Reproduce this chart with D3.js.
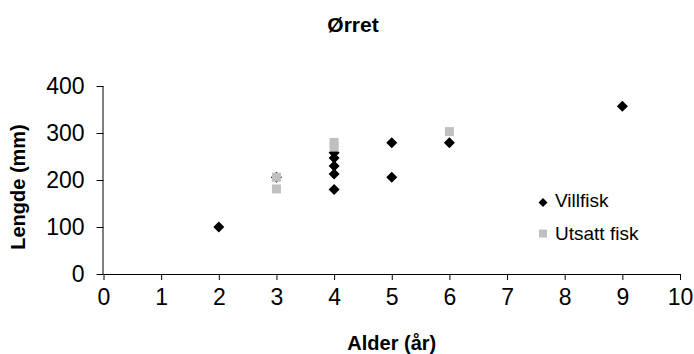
<!DOCTYPE html>
<html>
<head>
<meta charset="utf-8">
<script src="https://cdn.jsdelivr.net/npm/d3@7/dist/d3.min.js"></script>
<style>
  html, body { margin: 0; padding: 0; background: #fff; }
  svg { display: block; font-family: "Liberation Sans", Arial, sans-serif; }
</style>
</head>
<body>
<svg id="chart" width="694" height="354"></svg>
<script>
// Trout length by age: wild fish vs stocked fish
const seriesNames = ["Villfisk", "Utsatt fisk"];
const villfiskAge = [2, 3, 4, 4, 4, 4, 4, 5, 5, 6, 9];
const villfiskLength = [100, 206, 180, 213, 230, 247, 258, 206, 279, 279, 357];
const utsattAge = [3, 3, 4, 4, 6];
const utsattLength = [206, 181, 270, 280, 303];
const xTicks = [0, 1, 2, 3, 4, 5, 6, 7, 8, 9, 10];
const yTicks = [0, 100, 200, 300, 400];

const svg = d3.select("#chart");
const margin = { left: 103.5, right: 14, top: 86, bottom: 80 };
const W = 694, H = 354;

const x = d3.scaleLinear().domain([0, 10]).range([margin.left, W - margin.right]);
const y = d3.scaleLinear().domain([0, 400]).range([H - margin.bottom, margin.top]);

// Title
svg.append("text")
  .attr("x", 353).attr("y", 31.5)
  .attr("text-anchor", "middle")
  .attr("font-weight", "bold").attr("font-size", 21)
  .text("Ørret");

// Axes
const xAxis = svg.append("g")
  .attr("transform", `translate(0,${y(0)})`)
  .call(d3.axisBottom(x).tickValues(xTicks).tickSize(6).tickPadding(9).tickFormat(d3.format("d")));
const yAxis = svg.append("g")
  .attr("transform", `translate(${x(0)},0)`)
  .call(d3.axisLeft(y).tickValues(yTicks).tickSize(7).tickPadding(12).tickFormat(d3.format("d")));

[xAxis, yAxis].forEach(g => {
  g.selectAll(".tick line").attr("stroke", "#000");
  g.selectAll(".tick text").attr("font-size", 23).attr("fill", "#000")
    .attr("font-family", "Liberation Sans, Arial, sans-serif");
});
// plain axis lines without end caps
xAxis.select(".domain").attr("stroke", "#000").attr("d", `M${x(0)},0.5H${x(10)}`);
yAxis.select(".domain").attr("stroke", "#000").attr("d", `M-0.5,${y(0)}V${y(400)}`);

// Axis titles
svg.append("text")
  .attr("x", (x(0) + x(10)) / 2).attr("y", 350)
  .attr("text-anchor", "middle")
  .attr("font-weight", "bold").attr("font-size", 20)
  .text("Alder (år)");

svg.append("text")
  .attr("transform", `translate(25,${(y(0) + y(400)) / 2 + 7}) rotate(-90)`)
  .attr("text-anchor", "middle")
  .attr("font-weight", "bold").attr("font-size", 20)
  .text("Lengde (mm)");

// Marker shapes
const diamondPath = r => `M0,${-r}L${r},0L0,${r}L${-r},0Z`;
const squareSize = 9;

// Wild fish: black diamonds
svg.append("g").selectAll("path")
  .data(d3.zip(villfiskAge, villfiskLength))
  .join("path")
  .attr("d", diamondPath(5.5))
  .attr("transform", d => `translate(${x(d[0])},${y(d[1])})`)
  .attr("fill", "#000");

// Stocked fish: grey squares
svg.append("g").selectAll("rect")
  .data(d3.zip(utsattAge, utsattLength))
  .join("rect")
  .attr("x", d => x(d[0]) - squareSize / 2)
  .attr("y", d => y(d[1]) - squareSize / 2)
  .attr("width", squareSize).attr("height", squareSize)
  .attr("fill", "#c0c0c0");

// Legend
const legend = svg.append("g").attr("transform", "translate(543,0)");
legend.append("path").attr("d", diamondPath(4.5))
  .attr("transform", "translate(0,202.5)").attr("fill", "#000");
legend.append("text").attr("x", 12).attr("y", 207)
  .attr("font-size", 19).text(seriesNames[0]);
legend.append("rect").attr("x", -4).attr("y", 229.5).attr("width", 8).attr("height", 8)
  .attr("fill", "#c0c0c0");
legend.append("text").attr("x", 12).attr("y", 240)
  .attr("font-size", 19).text(seriesNames[1]);
</script>
</body>
</html>
